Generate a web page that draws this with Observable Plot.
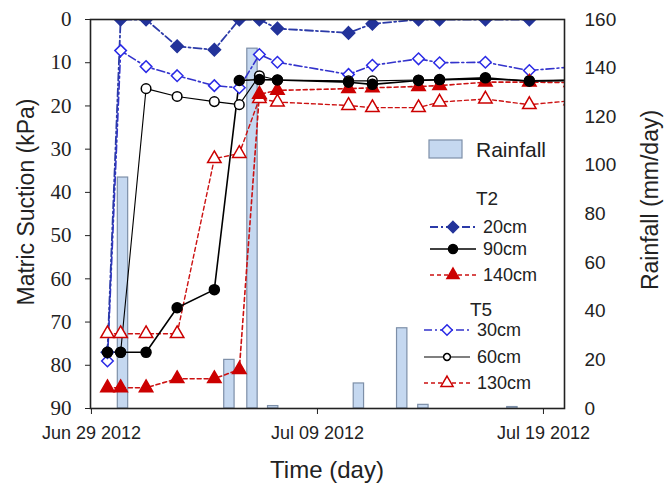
<!DOCTYPE html>
<html><head><meta charset="utf-8">
<script src="https://cdn.jsdelivr.net/npm/d3@7"></script>
<script src="https://cdn.jsdelivr.net/npm/@observablehq/plot@0.6"></script>
<style>
body{margin:0;background:#fff}
#chart{position:relative;width:667px;height:491px}
</style>
</head><body><div id="chart"></div>
<script>
// ---- data ----
const times = ["2012-06-29T17:00","2012-06-30T07:00","2012-07-01T10:00","2012-07-02T19:00","2012-07-04T10:30","2012-07-05T13:00","2012-07-06T10:20","2012-07-07T05:30","2012-07-10T09:00","2012-07-11T10:20","2012-07-13T11:20","2012-07-14T09:40","2012-07-16T10:20","2012-07-18T09:00","2012-07-20T05:00"];
const t2_20cm  = [77, 0, 0, 6.2, 7.0, 0, 0, 2.1, 3.1, 1.0, 0, 0, 0, 0, null];
const t2_90cm  = [77, 77, 77, 66.7, 62.5, 14.1, 13.9, 14.0, 14.5, 15.0, 14.1, 13.9, 13.5, 14.3, 14.1];
const t2_140cm = [85.2, 85.2, 85.2, 83.1, 83.1, 81.0, 17.3, 16.4, 16.0, 15.8, 15.5, 15.3, 14.5, 14.5, 14.6];
const t5_30cm  = [79, 7.2, 10.9, 13.0, 15.3, 15.8, 8.1, 9.9, 12.7, 10.6, 9.1, 10.0, 9.9, 11.8, 11.0];
const t5_60cm  = [77, 77, 16.0, 17.8, 19.0, 19.7, 13.0, 14.0, 14.2, 14.2, 14.0, 14.0, 13.8, 14.1, 14.0];
const t5_130cm = [72.7, 72.7, 72.7, 72.7, 32.2, 31.0, 18.3, 19.1, 19.9, 20.4, 20.4, 19.1, 18.4, 19.7, 18.8];

const rainTimes = ["2012-06-30T09:30","2012-07-05T02:30","2012-07-06T03:00","2012-07-07T01:00","2012-07-10T20:00","2012-07-12T18:00","2012-07-13T16:30","2012-07-17T15:00"];
const rainfall  = [95, 20, 148, 1, 10.3, 33, 1.5, 0.6];

const suctionTicks = [0,10,20,30,40,50,60,70,80,90];
const rainTicks = [0,20,40,60,80,100,120,140,160];
const dateTicks = ["2012-06-29","2012-07-09","2012-07-19"];

// ---- helpers ----
const parseT = d3.utcParse("%Y-%m-%dT%H:%M");
const parseD = d3.utcParse("%Y-%m-%d");
const SUCTION_MAX = 90, RAIN_MAX = 160;
const rainToY = r => SUCTION_MAX - r * SUCTION_MAX / RAIN_MAX;
const halfBar = 5.5 * 3600 * 1000;

const styles = {
  "20cm":  {stroke:"#2b3aa8", dash:"8,3,2,3", sw:1.8, symbol:"diamond2", fill:"#23339a", mstroke:"#23339a", r:5.6},
  "90cm":  {stroke:"#000",    dash:null,      sw:1.6, symbol:"circle",   fill:"#000",    mstroke:"#000",    r:5.0},
  "140cm": {stroke:"#cc1111", dash:"4,3",     sw:1.6, symbol:"triangle", fill:"#cc0000", mstroke:"#cc0000", r:5.0},
  "30cm":  {stroke:"#3333cc", dash:"8,3,2,3", sw:1.6, symbol:"diamond2", fill:"#fff",    mstroke:"#2a2ae6", r:5.2},
  "60cm":  {stroke:"#000",    dash:null,      sw:1.1, symbol:"circle",   fill:"#fff",    mstroke:"#000",    r:4.8},
  "130cm": {stroke:"#cc1111", dash:"4,3",     sw:1.4, symbol:"triangle", fill:"#fff",    mstroke:"#cc0000", r:5.0}
};
const seriesList = [
  {key:"30cm", vals:t5_30cm},
  {key:"60cm", vals:t5_60cm},
  {key:"130cm", vals:t5_130cm},
  {key:"140cm", vals:t2_140cm},
  {key:"20cm", vals:t2_20cm},
  {key:"90cm", vals:t2_90cm}
];

const rainData = rainTimes.map((t,i) => ({t: parseT(t), r: rainfall[i]}));

const marks = [
  Plot.rect(rainData, {
    x1: d => new Date(+d.t - halfBar), x2: d => new Date(+d.t + halfBar),
    y1: SUCTION_MAX, y2: d => rainToY(d.r),
    fill:"#c5d8f0", stroke:"#7d8fa8", strokeWidth:1.2
  })
];
for (const s of seriesList) {
  const st = styles[s.key];
  const data = times.map((t,i) => ({t: parseT(t), v: s.vals[i]})).filter(d => d.v != null);
  marks.push(Plot.line(data, {x:"t", y:"v", stroke:st.stroke, strokeWidth:st.sw, strokeDasharray:st.dash, clip:true}));
}
for (const s of seriesList) {
  const st = styles[s.key];
  const data = times.map((t,i) => ({t: parseT(t), v: s.vals[i]})).filter(d => d.v != null);
  marks.push(Plot.dot(data, {x:"t", y:"v", symbol:st.symbol, r:st.r, fill:st.fill, stroke:st.mstroke, strokeWidth:1.5, clip:true}));
}
marks.push(Plot.frame({stroke:"#222", strokeWidth:1.6}));
marks.push(Plot.axisY(suctionTicks, {anchor:"left", tickSize:5, tickPadding:14, fontSize:21, fontFamily:"Liberation Serif, serif", label:null, stroke:"#222"}));
marks.push(Plot.axisY(rainTicks.map(rainToY), {anchor:"right", tickSize:0, tickPadding:20, fontSize:19, label:null, tickFormat: v => String(Math.round((SUCTION_MAX - v) * RAIN_MAX / SUCTION_MAX))}));
marks.push(Plot.axisX(dateTicks.map(parseD), {anchor:"bottom", tickSize:6, tickPadding:12, fontSize:18, label:null, tickFormat: d3.utcFormat("%b %d %Y"), stroke:"#222"}));

const chart = Plot.plot({
  width:667, height:491,
  marginLeft:90, marginRight:103, marginTop:19, marginBottom:83,
  x:{type:"utc", domain:[parseT("2012-06-28T23:00"), parseT("2012-07-19T22:20")]},
  y:{domain:[0, SUCTION_MAX], reverse:true},
  style:{fontFamily:"Liberation Sans, Arial, sans-serif", background:"white", color:"#222"},
  marks
});
document.getElementById("chart").appendChild(chart);

// ---- axis titles & legend ----
const svg = d3.select(chart);
svg.append("text").attr("transform","translate(34,202) rotate(-90)").attr("text-anchor","middle")
  .attr("font-size",23).attr("fill","#222").text("Matric Suction (kPa)");
svg.append("text").attr("transform","translate(658,200) rotate(-90)").attr("text-anchor","middle")
  .attr("font-size",23).attr("fill","#222").text("Rainfall (mm/day)");
svg.append("text").attr("x",327).attr("y",478).attr("text-anchor","middle")
  .attr("font-size",24).attr("fill","#222").text("Time (day)");

const lg = svg.append("g").attr("font-size",18).attr("fill","#222").attr("text-anchor","start");
lg.append("rect").attr("x",429).attr("y",140).attr("width",33).attr("height",18)
  .attr("fill","#c5d8f0").attr("stroke","#7d8fa8").attr("stroke-width",1.2);
lg.append("text").attr("x",476).attr("y",157).attr("font-size",21).attr("text-anchor","start").text("Rainfall");
const groups = [
  {title:"T2", ty:205, cx:487, items:[["20cm",227],["90cm",249],["140cm",275]], sx:453, lx0:430, lx1:476, tx:483},
  {title:"T5", ty:316, cx:481, items:[["30cm",330],["60cm",357],["130cm",383]], sx:447, lx0:424, lx1:470, tx:477}
];
const symMap = {diamond2:d3.symbolDiamond2, circle:d3.symbolCircle, triangle:d3.symbolTriangle};
for (const g of groups) {
  lg.append("text").attr("x",g.cx).attr("y",g.ty).attr("font-size",19).attr("text-anchor","middle").text(g.title);
  for (const [key,y] of g.items) {
    const st = styles[key];
    lg.append("line").attr("x1",g.lx0).attr("x2",g.lx1).attr("y1",y).attr("y2",y)
      .attr("stroke",st.stroke).attr("stroke-width",st.sw).attr("stroke-dasharray",st.dash);
    const sz = key==="60cm" ? 3.4 : st.r*0.9;
    lg.append("path").attr("transform",`translate(${g.sx},${y})`)
      .attr("d", d3.symbol(symMap[st.symbol], sz*sz*Math.PI)())
      .attr("fill",st.fill).attr("stroke",st.mstroke).attr("stroke-width",1.5);
    lg.append("text").attr("x",g.tx).attr("y",y+6).attr("text-anchor","start").text(key);
  }
}
</script>
</body></html>
